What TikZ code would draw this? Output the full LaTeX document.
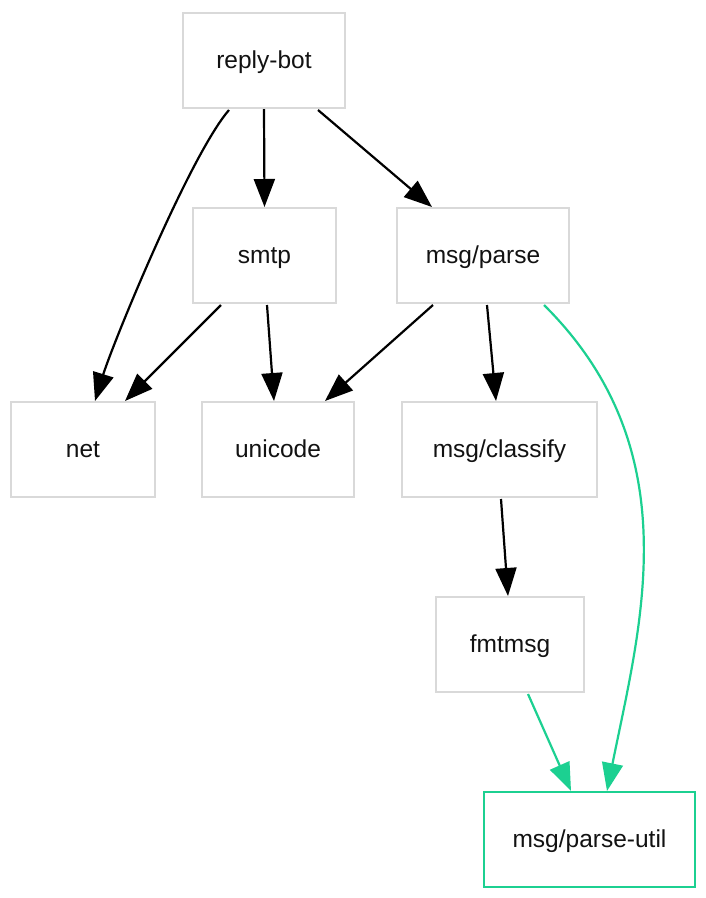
\documentclass[tikz,border=0pt]{standalone}
\usepackage{fontspec}
\setmainfont{Liberation Sans}
\usetikzlibrary{arrows.meta,calc}
\definecolor{boxgray}{RGB}{217,217,217}
\definecolor{linkgreen}{RGB}{28,208,145}
\begin{document}
\begin{tikzpicture}[x=1pt,y=-1pt,
  pkg/.style={draw=boxgray,line width=2pt,rectangle,inner sep=0pt,minimum height=95pt,
    text height=16pt,text depth=0pt,
    font=\fontsize{24.5}{29}\selectfont,text=black!93},
  dep/.style={draw=black,line width=2.2pt,-{Triangle[length=28pt,width=21pt]}},
  gdep/.style={draw=linkgreen,line width=2.2pt,-{Triangle[length=28pt,width=21pt]}}]
\useasboundingbox (0,0) rectangle (706,898);
\fill[white] (0,0) rectangle (706,898);
\node[pkg,minimum width=162pt] (rb) at (264,60.5) {reply-bot};
\node[pkg,minimum width=143pt] (smtp) at (264.5,255.5) {smtp};
\node[pkg,minimum width=172pt] (parse) at (483,255.5) {msg/parse};
\node[pkg,minimum width=144pt] (net) at (83,449.5) {net};
\node[pkg,minimum width=152pt] (uni) at (278,449.5) {unicode};
\node[pkg,minimum width=195pt] (cls) at (499.5,449.5) {msg/classify};
\node[pkg,minimum width=148pt] (fmt) at (510,644.5) {fmtmsg};
\node[pkg,minimum width=211pt,draw=linkgreen] (util) at (589.5,839.5) {msg/parse-util};

\draw[dep] ($(rb.south)+(-35,1)$) .. controls (190,155) and (113,343) .. ($(net.north)+(12,0)$);
\draw[dep] (rb.south) -- (smtp.north);
\draw[dep] ($(rb.south)+(54,1)$) -- ($(parse.north)+(-51,0)$);
\draw[dep] ($(smtp.south)+(-43.5,1)$) -- ($(net.north)+(42,0)$);
\draw[dep] ($(smtp.south)+(2.5,1)$) -- ($(uni.north)+(-4,0)$);
\draw[dep] ($(parse.south)+(-50,1)$) -- ($(uni.north)+(47,0)$);
\draw[dep] ($(parse.south)+(4,1)$) -- ($(cls.north)+(-3.5,0)$);
\draw[dep] ($(cls.south)+(1.5,1)$) -- ($(fmt.north)+(-2,0)$);
\draw[gdep] ($(parse.south)+(61,1)$) .. controls (690.5,450.5) and (640.5,624.5) .. ($(util.north)+(17.5,0)$);
\draw[gdep] ($(fmt.south)+(18,1)$) -- ($(util.north)+(-18.5,0)$);
\end{tikzpicture}
\end{document}
